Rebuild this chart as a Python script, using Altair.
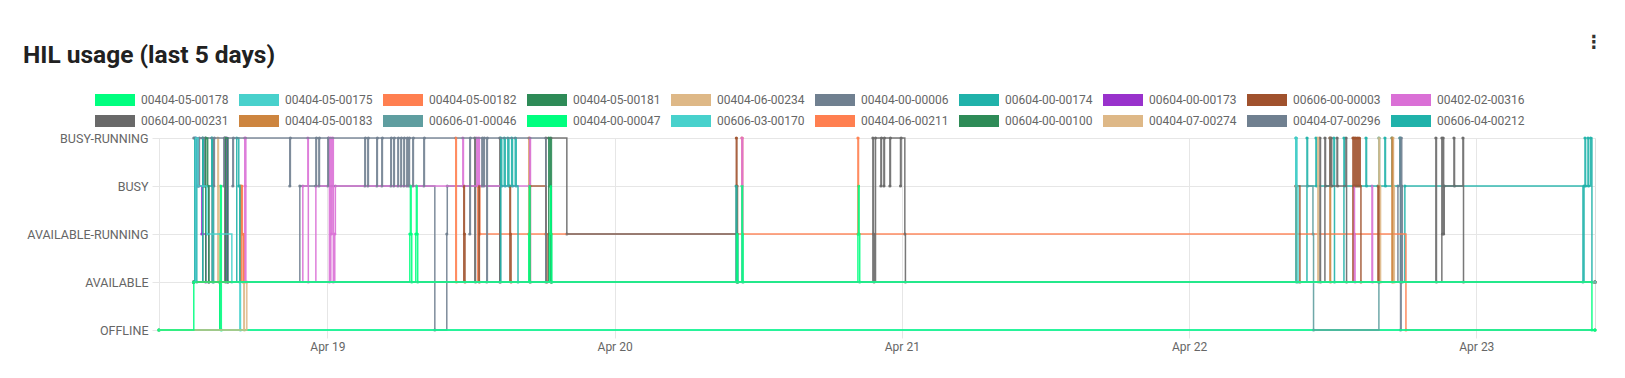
import altair as alt
import pandas as pd

TITLE = "HIL usage (last 5 days)"
STATES = ["OFFLINE", "AVAILABLE", "AVAILABLE-RUNNING", "BUSY", "BUSY-RUNNING"]

SERIES = [
    "00404-05-00178", "00404-05-00175", "00404-05-00182", "00404-05-00181",
    "00404-06-00234", "00404-00-00006", "00604-00-00174", "00604-00-00173",
    "00606-00-00003", "00402-02-00316", "00604-00-00231", "00404-05-00183",
    "00606-01-00046", "00404-00-00047", "00606-03-00170", "00404-06-00211",
    "00604-00-00100", "00404-07-00274", "00404-07-00296", "00606-04-00212",
]
COLORS = [
    "#00FF7F", "#48D1CC", "#FF7F50", "#2E8B57", "#DEB887", "#708090",
    "#20B2AA", "#9932CC", "#A0522D", "#DA70D6", "#696969", "#CD853F",
    "#5F9EA0", "#00FF7F", "#48D1CC", "#FF7F50", "#2E8B57", "#DEB887",
    "#708090", "#20B2AA",
]
DAY_TICKS = [19, 20, 21, 22, 23]  # April 2024

# status changes: (hours since 2024-04-18 00:00, state index into STATES)
S_00404_05_00178 = [(9.93,0),(12.84,1),(30.89,2),(30.94,3),(31.00,2),(31.05,1),(31.39,2),(31.44,3),(31.50,2),(31.55,1),
    (40.83,2),(40.88,3),(40.93,1),(42.59,2),(42.64,3),(42.70,2),(42.75,1),(58.22,2),(58.27,1),(58.64,3),(58.69,2),(58.74,1),
    (68.33,2),(68.38,3),(68.43,2),(68.48,1),(129.66,0),(129.91,0)]
S_00404_05_00175 = [(12.84,1),(13.01,4),(13.20,3),(13.93,2),(16.02,1),(104.93,4),(105.00,3),(105.10,1),(129.91,1)]
S_00404_05_00182 = [(12.84,1),(16.85,3),(16.90,2),(17.00,1),(34.73,4),(34.78,1),(129.91,1)]
S_00404_05_00181 = [(12.84,1),(13.84,4),(14.00,3),(14.10,1),(15.51,4),(15.68,1),(42.50,4),(42.59,3),(42.70,1),(129.91,1)]
S_00404_06_00234 = [(9.93,0),(17.02,1),(17.07,0),(17.27,1),(106.76,4),(106.81,1),(129.91,1)]
S_00404_00_00006 = [(12.84,4),(13.26,3),(13.31,4),(13.76,3),(13.81,4),(14.51,3),(14.56,4),(15.35,3),(15.40,4),(16.10,3),(16.15,4),
    (20.86,3),(20.91,4),(23.04,3),(23.09,4),(23.29,3),(23.34,4),(24.04,3),(24.09,4),(27.13,3),(27.18,4),(27.38,3),(27.43,4),
    (28.13,3),(28.18,4),(28.55,3),(28.60,4),(29.30,3),(29.35,4),(29.55,3),(29.60,4),(29.89,3),(29.94,4),(30.14,3),(30.19,4),
    (30.39,3),(30.44,4),(30.64,3),(30.69,4),(30.81,3),(30.86,4),(31.14,3),(31.19,4),(32.06,3),(32.11,4),(35.90,2),(35.95,4),
    (36.91,3),(36.96,4),(37.07,3),(37.12,4),(37.32,1),(37.37,4),(42.26,1),(129.91,1)]
S_00604_00_00174 = [(12.84,1),(12.92,4),(13.09,1),(13.59,4),(13.64,3),(14.35,4),(14.43,1),(16.43,4),(16.60,3),(16.69,1),
    (38.49,4),(38.57,3),(38.78,4),(38.86,3),(39.08,4),(39.17,3),(39.40,4),(39.47,3),(39.70,4),(39.78,3),(39.93,1),
    (58.15,3),(58.22,2),(58.30,1),(129.91,1)]
S_00604_00_00173 = [(12.84,1),(13.01,4),(13.20,3),(13.51,2),(13.84,1),(15.60,4),(15.68,1),(129.91,1)]
S_00606_00_00003 = [(12.84,1),(35.40,3),(35.45,2),(35.50,1),(36.66,3),(36.70,1),(39.25,3),(39.30,2),(39.35,1),(40.92,3),(42.26,2),
    (42.35,1),(58.17,4),(58.22,3),(58.27,1),(104.93,3),(105.26,1),(109.69,4),(109.74,3),(109.78,4),(109.86,3),(109.90,4),
    (110.00,3),(110.05,4),(110.15,3),(110.20,4),(110.30,3),(110.36,1),(111.78,3),(111.86,1),(129.91,1)]
S_00402_02_00316 = [(12.84,1),(17.10,4),(17.13,3),(17.16,4),(17.19,1),(21.95,3),(22.37,4),(22.41,1),(23.04,3),(24.12,4),(24.17,1),
    (24.29,4),(24.33,2),(24.37,3),(24.45,4),(24.50,1),(24.62,2),(24.67,3),(35.32,4),(35.37,3),(36.49,4),(36.54,3),(36.66,4),
    (36.70,3),(40.92,4),(40.97,1),(58.64,4),(58.70,1),(109.77,3),(109.82,2),(109.87,1),(111.28,3),(111.33,1),(129.91,1)]
S_00604_00_00231 = [(12.84,1),(13.59,4),(13.80,3),(14.09,1),(15.43,4),(15.50,1),(36.32,4),(36.38,1),(38.41,4),(38.46,1),(42.26,4),
    (44.01,2),(58.22,1),(69.58,4),(69.63,2),(69.68,1),(69.80,4),(70.25,3),(70.30,4),(70.50,3),(70.55,4),(71.00,3),(71.05,4),
    (71.89,3),(71.94,4),(72.25,2),(72.30,1),(106.93,4),(106.98,1),(107.35,4),(107.40,3),(107.77,4),(107.82,3),(107.87,4),
    (107.92,3),(108.36,4),(108.41,3),(109.11,4),(109.16,1),(116.62,4),(116.67,1),(117.12,4),(117.17,2),(117.22,4),(117.27,2),
    (117.32,3),(118.13,4),(118.18,3),(118.88,4),(118.93,1),(129.91,1)]
S_00404_05_00183 = [(12.84,1),(16.75,3),(16.84,2),(17.00,1),(40.85,4),(40.90,3),(40.96,1),(107.77,4),(107.82,1),(112.95,4),(113.00,1),(129.91,1)]
S_00606_01_00046 = [(12.84,1),(14.35,4),(14.40,3),(14.50,1),(104.93,3),(106.35,2),(106.40,0),(111.86,1),(129.91,1)]
S_00404_00_00047 = [(9.93,0),(15.01,1),(15.05,2),(15.09,3),(15.14,0),(129.91,0)]
S_00606_03_00170 = [(9.93,0),(16.69,3),(16.74,0),(129.91,0)]
S_00404_06_00211 = [(12.84,1),(36.57,3),(36.74,2),(58.64,4),(58.70,2),(68.33,4),(68.38,2),(114.12,0),(129.91,0)]
S_00604_00_00100 = [(12.84,1),(42.67,4),(42.72,1),(129.91,1)]
S_00404_07_00274 = [(12.84,1),(14.85,4),(14.90,3),(14.95,1),(111.86,4),(111.92,3),(112.00,1),(113.03,4),(113.08,3),(113.15,1),(129.91,1)]
S_00404_07_00296 = [(9.93,0),(15.01,1),(21.70,3),(32.98,0),(33.98,2),(34.02,3),(38.41,1),(113.45,3),(113.62,4),(113.67,0),(113.72,4),
    (113.77,3),(113.82,1),(129.91,1)]
S_00606_04_00212 = [(12.84,1),(104.93,4),(104.98,1),(105.85,4),(105.90,3),(106.60,4),(106.65,3),(108.10,4),(108.15,1),(108.94,4),
    (109.00,3),(110.78,4),(110.83,3),(111.86,4),(111.91,3),(112.36,4),(112.41,3),(112.95,4),(113.00,3),(113.62,4),(113.67,1),
    (114.03,3),(128.91,1),(129.00,3),(129.08,4),(129.13,3),(129.33,4),(129.38,3),(129.55,4),(129.66,1),(129.91,1)]

HISTORY = [
    S_00404_05_00178, S_00404_05_00175, S_00404_05_00182, S_00404_05_00181, S_00404_06_00234,
    S_00404_00_00006, S_00604_00_00174, S_00604_00_00173, S_00606_00_00003, S_00402_02_00316,
    S_00604_00_00231, S_00404_05_00183, S_00606_01_00046, S_00404_00_00047, S_00606_03_00170,
    S_00404_06_00211, S_00604_00_00100, S_00404_07_00274, S_00404_07_00296, S_00606_04_00212,
]

start = pd.Timestamp("2024-04-18 00:00")
rows = []
for name, hist in reversed(list(zip(SERIES, HISTORY))):
    for h, s in hist:
        t = start + pd.Timedelta(hours=h)
        rows.append({"series": name, "time": t.strftime("%Y-%m-%dT%H:%M:%S"), "state": s})
df = pd.DataFrame(rows)

label_expr = "[" + ",".join("'%s'" % s for s in STATES) + "][datum.value]"
GRID = "#e6e6e6"
LABEL = "#666666"

x = alt.X(
    "time:T",
    scale=alt.Scale(
        domain=[alt.DateTime(year=2024, month=4, date=18, hours=9, minutes=56),
                alt.DateTime(year=2024, month=4, date=23, hours=9, minutes=55)],
        nice=False),
    axis=alt.Axis(values=[alt.DateTime(year=2024, month=4, date=d) for d in DAY_TICKS],
                  format="%b %d", title=None, tickSize=8, labelPadding=3, domain=False,
                  labelFont="Roboto", labelFontSize=12, labelColor=LABEL,
                  gridColor=GRID, tickColor=GRID),
)
y = alt.Y(
    "state:Q",
    scale=alt.Scale(domain=[0, len(STATES) - 1], nice=False, zero=False),
    axis=alt.Axis(values=list(range(len(STATES))), labelExpr=label_expr, title=None,
                  tickSize=7, labelPadding=4, labelFont="Roboto", labelFontSize=12.5,
                  labelColor=LABEL, gridColor=GRID, tickColor=GRID, domainColor=GRID),
)
color = alt.Color(
    "series:N",
    scale=alt.Scale(domain=SERIES, range=COLORS),
    legend=alt.Legend(
        title=None, orient="none", legendX=-50, legendY=-44, direction="horizontal",
        columns=10, symbolType="M-40,-12H40V12H-40Z", symbolStrokeWidth=0, symbolSize=1,
        symbolOpacity=1, labelFont="Roboto", labelFontSize=12, labelColor=LABEL,
        labelOffset=20, columnPadding=10, rowPadding=9, padding=0,
    ),
)

points = alt.Chart(df).mark_point(filled=True, size=10, opacity=0.9).encode(x=x, y=y, color=color)

lines = alt.Chart(df).mark_line(
    interpolate="step-after", strokeWidth=1.5, opacity=0.9,
).encode(x=x, y=y, color=color, order=alt.Order("time:T"))

heading = alt.Chart(pd.DataFrame({"title": [TITLE]})).mark_text(
    font="Roboto", fontSize=24.5, fontWeight="bold", color="#212121",
    align="left", baseline="alphabetic",
).encode(text="title:N", x=alt.value(-136), y=alt.value(-75))

menu = alt.Chart(pd.DataFrame({"icon": ["⋮"]})).mark_text(
    font="DejaVu Sans", fontSize=18, fontWeight="bold", color="#333333"
).encode(text="icon:N", x=alt.value(1435), y=alt.value(-95))

chart = alt.layer(points, lines, heading, menu).properties(
    width=1436, height=192,
    autosize=alt.AutoSizeParams(type="none"),
    padding={"left": 151, "top": 130, "right": 21, "bottom": 43},
).configure_view(stroke=None).configure(background="white")

chart.save("out.html", embed_options={"renderer": "svg", "actions": False})
